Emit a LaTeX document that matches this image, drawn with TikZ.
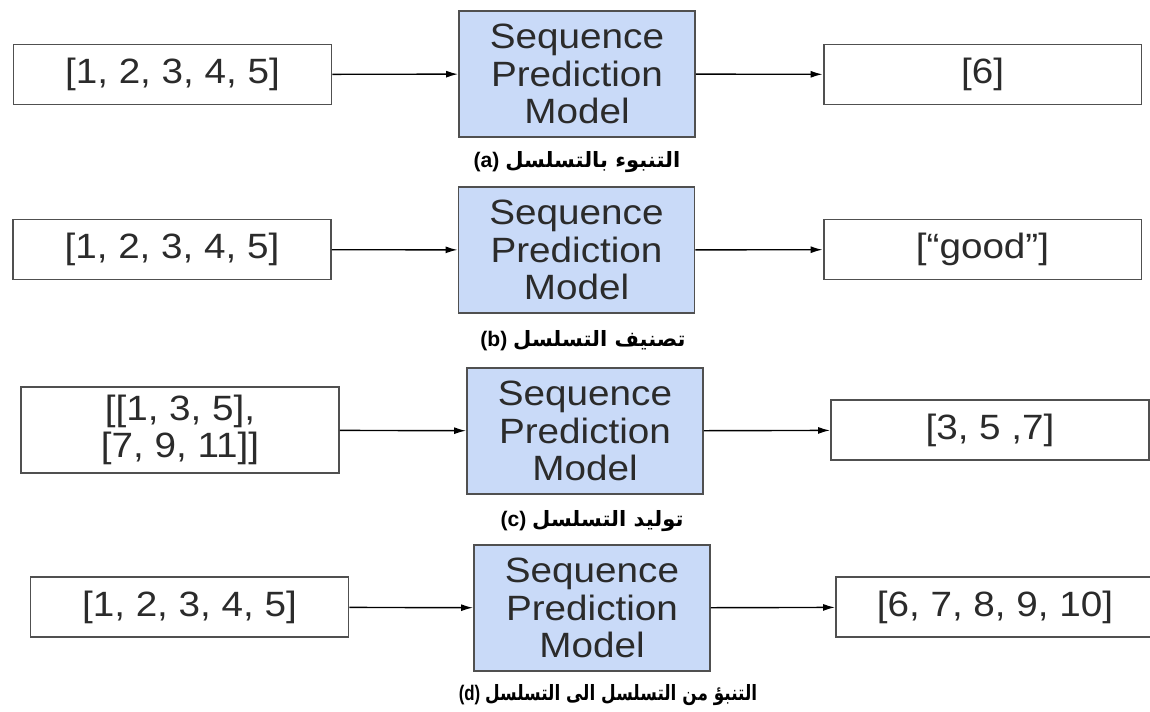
\documentclass[tikz,border=0pt]{standalone}
\usepackage{fontspec}
\setmainfont{Liberation Sans}
\newfontfamily\boxfont{Liberation Sans}[FakeStretch=1.1]
\newfontfamily\arabicfont[Script=Arabic]{DejaVu Sans}
\TeXXeTstate=1
\usetikzlibrary{arrows.meta}
\definecolor{modelblue}{HTML}{C9DAF8}
\definecolor{boxline}{HTML}{505050}
\definecolor{inktext}{HTML}{2B2B2B}
\begin{document}
\begin{tikzpicture}[x=0.02cm, y=-0.02cm,
    iobox/.style={draw=boxline, line width=1.1pt, fill=white, text=inktext,
        minimum width=6.36cm, minimum height=1.2cm, inner sep=0pt, align=center,
        font=\boxfont\fontsize{20}{21.5}\selectfont},
    modelbox/.style={draw=boxline, line width=1.1pt, fill=modelblue, text=inktext,
        minimum width=4.72cm, minimum height=2.52cm, inner sep=0pt, align=center,
        font=\boxfont\fontsize{20}{21.5}\selectfont},
    caption/.style={font=\fontsize{12}{14}\selectfont\bfseries, text=black},
    flow/.style={draw=black, line width=0.8pt, -{Latex[length=2.4mm, width=1.4mm]}}]
    \useasboundingbox (0,0) rectangle (1150,711);
    % Row (a)
    \node[iobox] (inA) at (172.5,74.5) {[1, 2, 3, 4, 5]};
    \node[modelbox] (modelA) at (577,74) {Sequence\\Prediction\\Model};
    \node[iobox] (outA) at (982.5,74.5) {[6]};
    \draw[flow] (inA) -- (modelA);
    \draw[flow] (modelA) -- (outA);
    \node[caption] (capA) at (577,162) {(a) {\arabicfont\bfseries\beginR التنبوء بالتسلسل\endR}};
    % Row (b)
    \node[iobox] (inB) at (172,249.5) {[1, 2, 3, 4, 5]};
    \node[modelbox] (modelB) at (576.5,250) {Sequence\\Prediction\\Model};
    \node[iobox] (outB) at (982.5,249.5) {[“good”]};
    \draw[flow] (inB) -- (modelB);
    \draw[flow] (modelB) -- (outB);
    \node[caption] (capB) at (583,341) {(b) {\arabicfont\bfseries\beginR تصنيف التسلسل\endR}};
    % Row (c)
    \node[iobox, minimum height=1.72cm] (inC) at (180,430) {[[1, 3, 5],\\{}[7, 9, 11]]};
    \node[modelbox] (modelC) at (585,431) {Sequence\\Prediction\\Model};
    \node[iobox] (outC) at (990,430) {[3, 5 ,7]};
    \draw[flow] (inC) -- (modelC);
    \draw[flow] (modelC) -- (outC);
    \node[caption] (capC) at (592,521) {(c) {\arabicfont\bfseries\beginR توليد التسلسل\endR}};
    % Row (d)
    \node[iobox] (inD) at (189.5,607) {[1, 2, 3, 4, 5]};
    \node[modelbox] (modelD) at (592,608) {Sequence\\Prediction\\Model};
    \node[iobox] (outD) at (995,607) {[6, 7, 8, 9, 10]};
    \draw[flow] (inD) -- (modelD);
    \draw[flow] (modelD) -- (outD);
    \node[caption] (capD) at (608,695) {\scalebox{0.8}[1]{(d) {\arabicfont\bfseries\beginR التنبؤ من التسلسل الى التسلسل\endR}}};
\end{tikzpicture}
\end{document}
